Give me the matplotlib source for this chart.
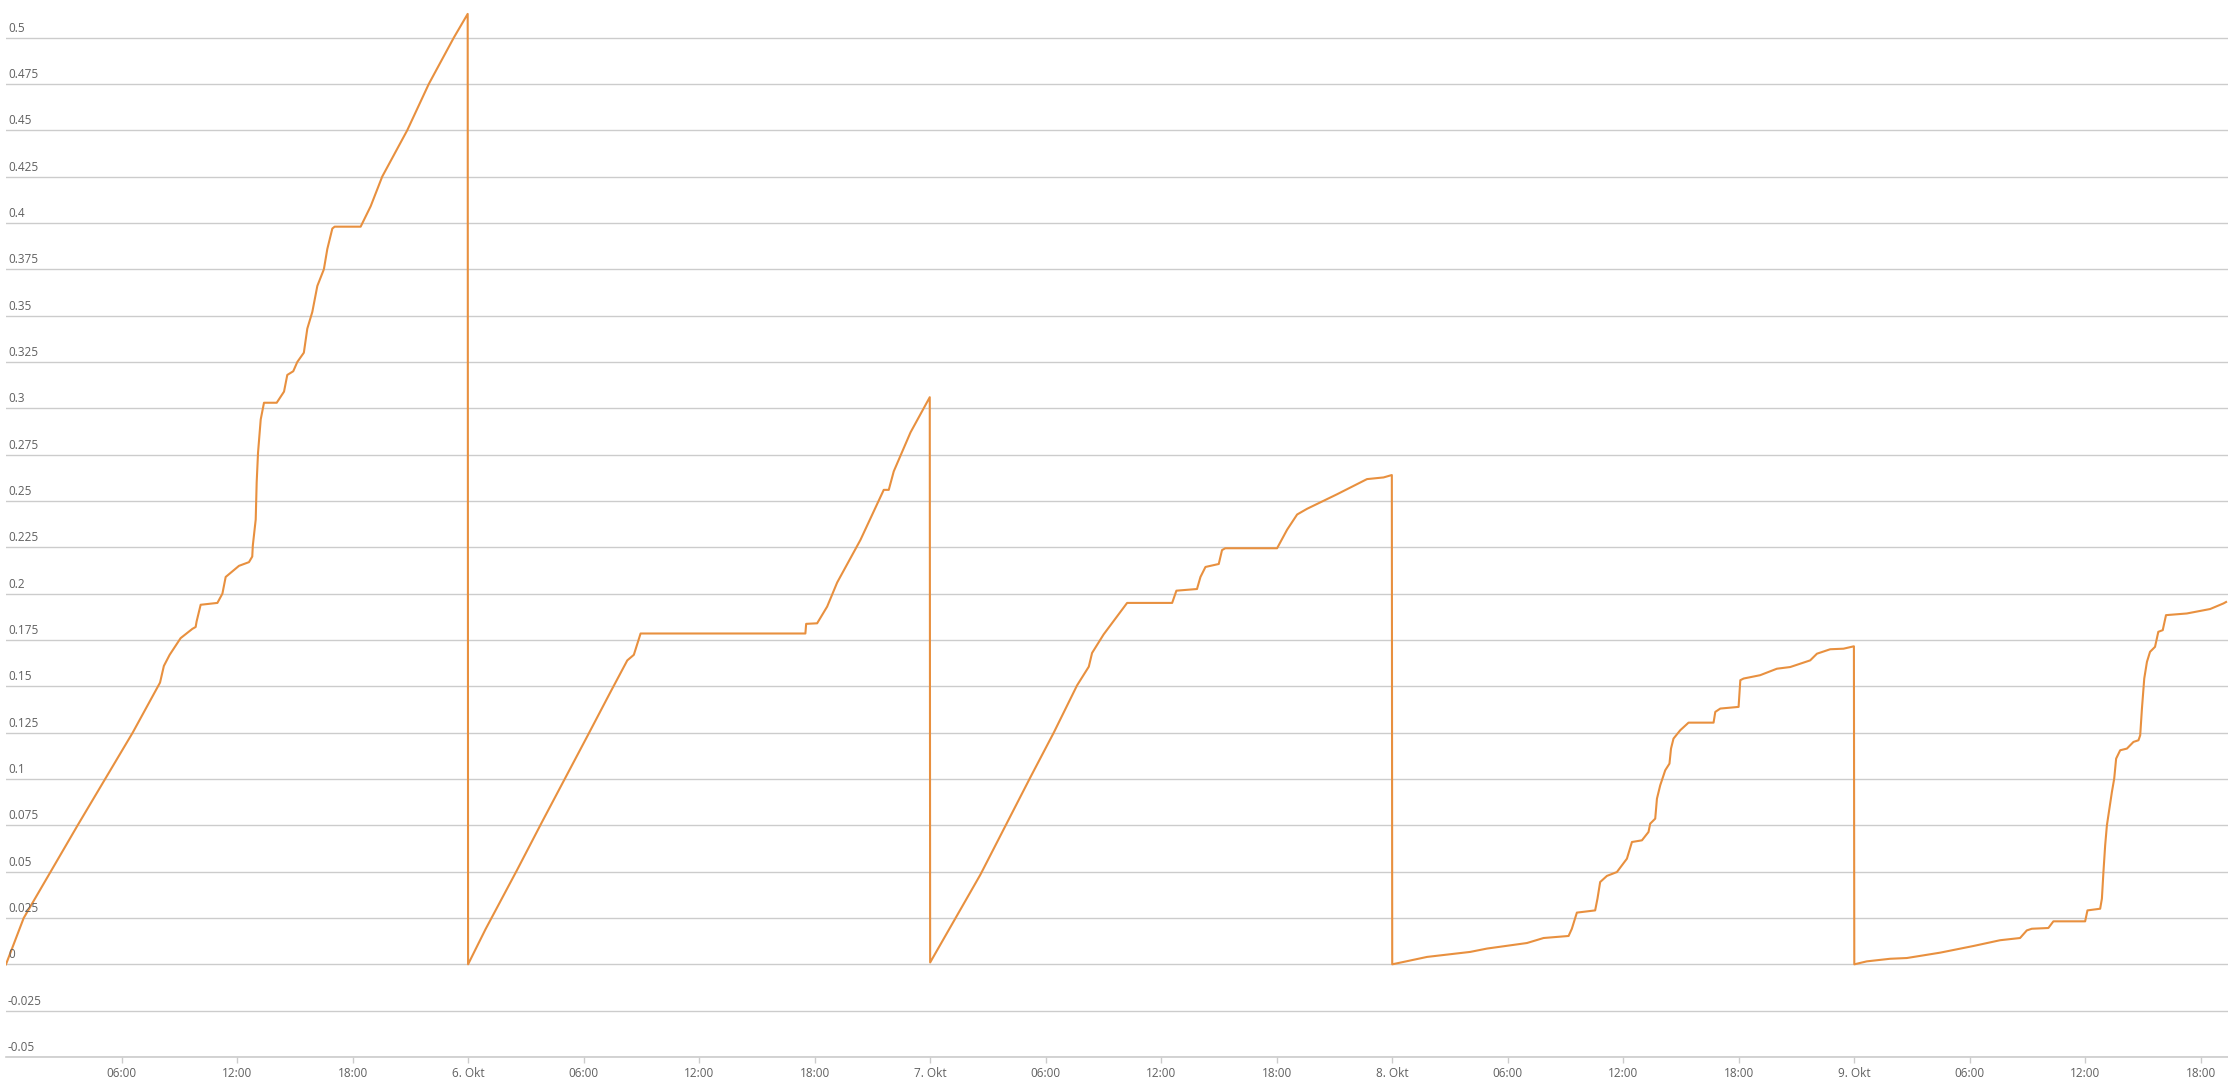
import pandas as pd
import matplotlib
matplotlib.use('Agg')
import matplotlib.pyplot as plt
import matplotlib.transforms as mtransforms

plt.rcParams['font.family'] = ['Open Sans', 'DejaVu Sans']

start = pd.Timestamp('2023-10-05 00:00')

# hours since 5. Okt 00:00 and the reading at that time, one list pair per day
day1_h = [0.0, 0.92, 2.32, 3.72, 5.15, 6.58, 8.0, 8.2, 8.5, 9.07, 9.68, 9.85, 9.9,
          10.11, 10.98, 11.24, 11.41, 12.10, 12.62, 12.79, 12.82, 12.97, 13.02,
          13.09, 13.23, 13.40, 14.06, 14.44, 14.61, 14.92, 15.13, 15.47, 15.65,
          15.91, 16.17, 16.51, 16.69, 16.95, 17.07, 18.42, 18.94, 19.54, 20.84,
          21.96, 23.26, 23.98]
day1_v = [0.0, 0.025, 0.05, 0.075, 0.1, 0.125, 0.152, 0.161, 0.167, 0.176, 0.181,
          0.182, 0.185, 0.194, 0.195, 0.200, 0.209, 0.215, 0.217, 0.220, 0.226,
          0.240, 0.260, 0.276, 0.294, 0.303, 0.303, 0.309, 0.318, 0.320, 0.325,
          0.330, 0.343, 0.352, 0.366, 0.375, 0.386, 0.397, 0.398, 0.398, 0.409,
          0.425, 0.45, 0.475, 0.5, 0.5128]

day2_h = [24.0, 24.91, 26.55, 27.85, 28.97, 30.19, 31.40, 32.27, 32.61, 32.73,
          32.96, 41.52, 41.56, 42.13, 42.65, 43.17, 44.38, 45.59, 45.85, 46.11,
          46.98, 47.98]
day2_v = [0.0, 0.019, 0.051, 0.077, 0.099, 0.123, 0.147, 0.164, 0.167, 0.171,
          0.1785, 0.1785, 0.1837, 0.184, 0.193, 0.206, 0.229, 0.256, 0.256,
          0.266, 0.287, 0.306]

day3_h = [48.0, 50.61, 53.21, 54.42, 55.63, 56.24, 56.41, 57.01, 58.23, 60.57,
          60.79, 61.86, 62.04, 62.30, 62.99, 63.16, 63.33, 66.02, 66.54, 67.06,
          67.58, 69.13, 70.69, 71.55, 71.98]
day3_v = [0.001, 0.0484, 0.101, 0.125, 0.1505, 0.1606, 0.168, 0.178, 0.195,
          0.195, 0.2016, 0.2025, 0.209, 0.2144, 0.216, 0.2235, 0.2245, 0.2245,
          0.2345, 0.2427, 0.2458, 0.2536, 0.2618, 0.2627, 0.264]

day4_h = [72.0, 73.81, 76.05, 76.92, 79.00, 79.86, 81.16, 81.33, 81.59, 82.54,
          82.66, 82.80, 83.15, 83.67, 84.19, 84.45, 84.97, 85.31, 85.40, 85.66,
          85.75, 85.92, 86.18, 86.40, 86.48, 86.61, 86.96, 87.39, 88.69, 88.78,
          89.04, 89.99, 90.08, 90.25, 91.11, 91.98, 92.67, 93.71, 94.06, 94.75,
          95.44, 95.98]
day4_v = [0.0, 0.004, 0.0067, 0.0085, 0.0115, 0.0142, 0.0153, 0.0192, 0.0279,
          0.0291, 0.0354, 0.0444, 0.0477, 0.0498, 0.057, 0.066, 0.0669, 0.0714,
          0.0759, 0.0786, 0.0894, 0.0966, 0.1047, 0.1083, 0.1164, 0.1218,
          0.1263, 0.1304, 0.1304, 0.1362, 0.138, 0.1389, 0.1533, 0.1542, 0.156,
          0.1595, 0.1604, 0.164, 0.1676, 0.170, 0.1703, 0.1716]

day5_h = [96.0, 96.65, 97.86, 98.73, 100.46, 102.19, 103.57, 104.61, 104.96,
          105.22, 106.08, 106.34, 107.99, 108.11, 108.77, 108.86, 108.94, 109.03,
          109.12, 109.25, 109.38, 109.50, 109.60, 109.81, 110.16, 110.50, 110.76,
          110.85, 110.94, 111.06, 111.20, 111.36, 111.62, 111.79, 112.02, 112.19,
          113.27, 114.48, 115.17, 115.31]
day5_v = [0.0, 0.0016, 0.003, 0.0034, 0.0063, 0.0099, 0.013, 0.0142, 0.0183,
          0.0192, 0.0196, 0.0232, 0.0232, 0.0291, 0.030, 0.0354, 0.0498, 0.0642,
          0.075, 0.084, 0.093, 0.1002, 0.111, 0.1155, 0.1164, 0.120, 0.1209,
          0.1236, 0.138, 0.1542, 0.1632, 0.1686, 0.1713, 0.1794, 0.1803, 0.1884,
          0.1893, 0.1917, 0.1947, 0.1955]

y_ticks = [-0.05, -0.025, 0, 0.025, 0.05, 0.075, 0.1, 0.125, 0.15, 0.175, 0.2,
           0.225, 0.25, 0.275, 0.3, 0.325, 0.35, 0.375, 0.4, 0.425, 0.45, 0.475, 0.5]
y_labels = ['-0.05', '-0.025', '0', '0.025', '0.05', '0.075', '0.1', '0.125',
            '0.15', '0.175', '0.2', '0.225', '0.25', '0.275', '0.3', '0.325',
            '0.35', '0.375', '0.4', '0.425', '0.45', '0.475', '0.5']
x_labels = ['06:00', '12:00', '18:00', '6. Okt', '06:00', '12:00', '18:00',
            '7. Okt', '06:00', '12:00', '18:00', '8. Okt', '06:00', '12:00',
            '18:00', '9. Okt', '06:00', '12:00', '18:00']

hours = day1_h + day2_h + day3_h + day4_h + day5_h
values = day1_v + day2_v + day3_v + day4_v + day5_v
times = start + pd.to_timedelta(hours, unit='h')

fig = plt.figure(figsize=(22.28, 10.8), dpi=100)
ax = fig.add_axes([6 / 2228, 1 - 1057 / 1080, 1 - 6 / 2228, 1057 / 1080])

grid_color = '#CCCCCC'
text_color = '#606060'

ax.plot(times, values, color='#E8903F', linewidth=1.5, zorder=3)

ax.set_xlim(start, start + pd.Timedelta(hours=115.41))
ax.set_ylim(-0.05, 0.5203)

ax.set_yticks(y_ticks)
ax.set_yticklabels([])
ax.tick_params(axis='y', length=0)
ax.grid(True, axis='y', color=grid_color, linewidth=1.0)

tick_times = pd.date_range(start + pd.Timedelta(hours=6), periods=len(x_labels), freq='6h')
ax.set_xticks(tick_times)
ax.set_xticklabels(x_labels)
ax.tick_params(axis='x', length=4, width=1, color=grid_color, pad=3,
               labelsize=8.5, labelcolor=text_color)

for s in ['top', 'right', 'left']:
    ax.spines[s].set_visible(False)
ax.spines['bottom'].set_color(grid_color)
ax.spines['bottom'].set_linewidth(1.2)

trans = mtransforms.blended_transform_factory(ax.transAxes, ax.transData)
trans = mtransforms.offset_copy(trans, fig=fig, x=2, y=3, units='dots')
for v, lab in zip(y_ticks, y_labels):
    ax.text(0.0, v, lab, transform=trans, ha='left', va='bottom',
            fontsize=8.5, color=text_color)

fig.savefig('out.png', dpi=100)
